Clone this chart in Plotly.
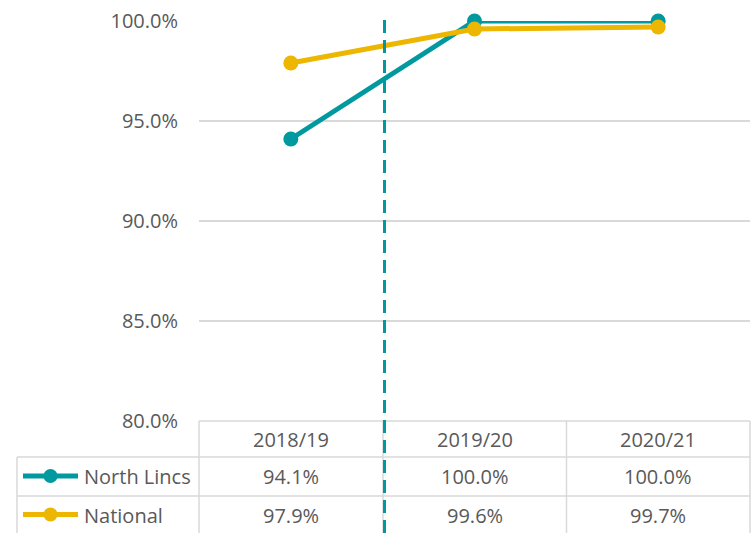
import plotly.graph_objects as go

categories = ["2018/19", "2019/20", "2020/21"]
series_names = ["North Lincs", "National"]
north_lincs = [94.1, 100.0, 100.0]
national = [97.9, 99.6, 99.7]
y_ticks = [80, 85, 90, 95, 100]

W, H = 755, 533
TEAL = "#00999F"
GOLD = "#EDB600"
GRID = "#D9D9D9"
TXT = "#595959"
FONT = "Open Sans"
FS = 20

def px(x):
    return x / W

def py(y):
    return 1 - y / H

fig = go.Figure()
xs = list(range(len(categories)))
for name, vals, col in [(series_names[0], north_lincs, TEAL), (series_names[1], national, GOLD)]:
    fig.add_trace(go.Scatter(
        x=xs, y=vals, name=name, mode="lines+markers",
        line=dict(color=col, width=5),
        marker=dict(color=col, size=15),
        cliponaxis=False, showlegend=False,
    ))

shapes = []
annotations = []

def hline(x0, x1, y):
    shapes.append(dict(type="line", xref="paper", yref="paper",
                       x0=px(x0), x1=px(x1), y0=py(y), y1=py(y),
                       line=dict(color=GRID, width=1.5)))

def vline(x, y0, y1):
    shapes.append(dict(type="line", xref="paper", yref="paper",
                       x0=px(x), x1=px(x), y0=py(y0), y1=py(y1),
                       line=dict(color=GRID, width=1.5)))

# table grid
hline(199, 750, 421)
hline(17, 750, 457)
hline(17, 750, 496)
vline(17, 457, 533)
for xv in [199, 383, 566.5, 750]:
    vline(xv, 421, 533)

# dashed separator between first and second period
shapes.append(dict(type="line", xref="x", yref="paper", x0=0.51, x1=0.51,
                   y0=0, y1=py(13), line=dict(color=TEAL, width=3, dash="13px,7px")))

# header and values in table
rows_y = [476.5, 515]

def ann(x, y, text, xref="x", xanchor="center"):
    annotations.append(dict(x=x, y=py(y), xref=xref, yref="paper", text=text,
                            xanchor=xanchor, yanchor="middle", showarrow=False,
                            font=dict(family=FONT, size=FS, color=TXT)))

for i, c in enumerate(categories):
    ann(i, 439, c)
    for vals, ry in [(north_lincs, rows_y[0]), (national, rows_y[1])]:
        ann(i, ry, f"{vals[i]:.1f}%")

# legend keys
for name, col, ry in [(series_names[0], TEAL, rows_y[0]), (series_names[1], GOLD, rows_y[1])]:
    shapes.append(dict(type="line", xref="paper", yref="paper", x0=px(23), x1=px(78),
                       y0=py(ry - 0.5), y1=py(ry - 0.5), line=dict(color=col, width=5)))
    shapes.append(dict(type="circle", xref="paper", yref="paper", x0=px(43.5), x1=px(57.5),
                       y0=py(ry - 7.5), y1=py(ry + 6.5), fillcolor=col, line=dict(color=col, width=0)))
    ann(px(82), ry, name, xref="paper", xanchor="left")

fig.update_layout(
    template="none",
    width=W, height=H,
    margin=dict(l=0, r=0, t=0, b=0, pad=0, autoexpand=False),
    paper_bgcolor="white", plot_bgcolor="white",
    shapes=shapes, annotations=annotations,
    xaxis=dict(domain=[px(199), px(750)], range=[-0.5, 2.5], showgrid=False,
               zeroline=False, showticklabels=False, showline=False, ticks="",
               automargin=False),
    yaxis=dict(domain=[py(421), py(21)], range=[80, 100], tickvals=y_ticks,
               ticktext=[f"{v:.1f}%" for v in y_ticks],
               showgrid=True, gridcolor=GRID, gridwidth=1.5, zeroline=False,
               showline=False, ticks="", ticklabelstandoff=20, automargin=False,
               tickfont=dict(family=FONT, size=FS, color=TXT)),
    showlegend=False,
)

fig.write_html("out.html", config={"displayModeBar": False},
               post_script="document.body.style.margin='0';document.body.style.overflow='hidden';")
